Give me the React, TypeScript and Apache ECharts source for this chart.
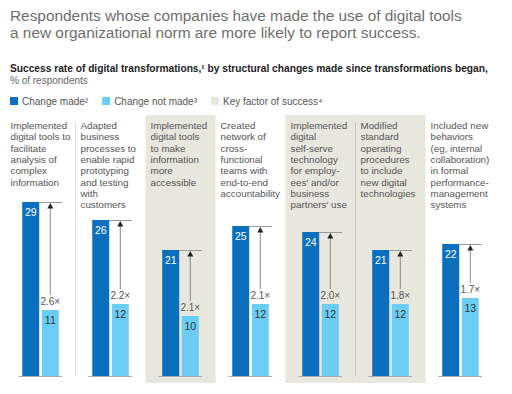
import React, { useEffect, useRef } from "react";
import * as echarts from "echarts";

const categories = [
  "Implemented\ndigital tools to\nfacilitate\nanalysis of\ncomplex\ninformation",
  "Adapted\nbusiness\nprocesses to\nenable rapid\nprototyping\nand testing\nwith\ncustomers",
  "Implemented\ndigital tools\nto make\ninformation\nmore\naccessible",
  "Created\nnetwork of\ncross-\nfunctional\nteams with\nend-to-end\naccountability",
  "Implemented\ndigital\nself-serve\ntechnology\nfor employ-\nees' and/or\nbusiness\npartners' use",
  "Modified\nstandard\noperating\nprocedures\nto include\nnew digital\ntechnologies",
  "Included new\nbehaviors\n(eg, internal\ncollaboration)\nin formal\nperformance-\nmanagement\nsystems",
];
const changeMade = [29, 26, 21, 25, 24, 21, 22];
const changeNotMade = [11, 12, 10, 12, 12, 12, 13];
const multipliers = ["2.6×", "2.2×", "2.1×", "2.1×", "2.0×", "1.8×", "1.7×"];
const keyFactor = [false, false, true, false, true, true, false];

const DARK = "#0B6FBE";
const LIGHT = "#6BCDF3";
const SHADE = "#E8E7DD";
const FONT = "'Liberation Sans', Arial, Helvetica, sans-serif";

export default function App() {
  const ref = useRef<HTMLDivElement>(null);
  useEffect(() => {
    const chart = echarts.init(ref.current!, null, { renderer: "svg" });
    const BAR_W = 17;
    const OFF = 9.8;
    const option: any = {
      animation: false,
      textStyle: { fontFamily: FONT },
      title: [
        {
          text: "Respondents whose companies have made the use of digital tools\na new organizational norm are more likely to report success.",
          left: 10,
          top: 7,
          padding: 0,
          textStyle: { fontSize: 15.4, fontWeight: "normal", color: "#6e6e6e", lineHeight: 17, fontFamily: FONT },
        },
        {
          text: "Success rate of digital transformations,¹ by structural changes made since transformations began,",
          left: 10,
          top: 62,
          padding: 0,
          textStyle: { fontSize: 10.2, fontWeight: "bold", color: "#222", lineHeight: 12, fontFamily: FONT },
        },
        {
          text: "% of respondents",
          left: 10,
          top: 74,
          padding: 0,
          textStyle: { fontSize: 10, fontWeight: "normal", color: "#666", lineHeight: 12, fontFamily: FONT },
        },
      ],
      legend: {
        left: 10,
        top: 96,
        padding: 0,
        itemWidth: 8,
        itemHeight: 8,
        itemGap: 14,
        icon: "rect",
        textStyle: { fontSize: 10, color: "#555", fontFamily: FONT, padding: [0, 0, 0, -1] },
        data: ["Change made²", "Change not made³", "Key factor of success⁴"],
      },
      grid: { left: 5.5, right: 16.5, top: 136, bottom: 18 },
      xAxis: {
        type: "category",
        data: categories,
        show: false,
      },
      yAxis: { type: "value", min: 0, max: 40, show: false },
      series: [
        {
          name: "Key factor of success⁴",
          type: "custom",
          z: 1,
          itemStyle: { color: SHADE },
          data: categories.map((_, i) => [i, keyFactor[i] ? 1 : 0]),
          renderItem: (params: any, api: any) => {
            const i = api.value(0);
            const c = api.coord([i, 0]);
            const cx = c[0];
            const children: any[] = [];
            if (keyFactor[i]) {
              children.push({
                type: "rect",
                shape: { x: cx - 35, y: 115, width: 70, height: 268 },
                style: { fill: SHADE },
              });
            }
            if (i > 0 && keyFactor[i] === keyFactor[i - 1]) {
              children.push({
                type: "line",
                shape: { x1: cx - 35, y1: 123, x2: cx - 35, y2: c[1] },
                style: { stroke: keyFactor[i] ? "#c9c7bd" : "#dddddd", lineWidth: 1 },
              });
            }
            children.push({
              type: "text",
              x: cx - 30,
              y: 120,
              style: {
                text: categories[i],
                fontSize: 9.8,
                lineHeight: 11.3,
                fill: "#555",
                fontFamily: FONT,
                textAlign: "left",
                textVerticalAlign: "top",
              },
            });
            return { type: "group", children };
          },
        },
        {
          name: "Change made²",
          type: "bar",
          data: changeMade,
          barWidth: BAR_W,
          barGap: "15%",
          itemStyle: { color: DARK },
          z: 2,
          label: {
            show: true,
            position: "insideTop",
            distance: 4,
            color: "#fff",
            fontSize: 10.5,
            fontFamily: FONT,
          },
        },
        {
          name: "Change not made³",
          type: "bar",
          data: changeNotMade,
          barWidth: BAR_W,
          itemStyle: { color: LIGHT },
          z: 2,
          label: {
            show: true,
            position: "insideTop",
            distance: 4,
            color: "#333",
            fontSize: 10.5,
            fontFamily: FONT,
          },
        },
        {
          name: "annotations",
          type: "custom",
          z: 3,
          data: categories.map((_, i) => [i, changeMade[i], changeNotMade[i]]),
          renderItem: (params: any, api: any) => {
            const i = api.value(0);
            const base = api.coord([i, 0]);
            const topD = api.coord([i, api.value(1)])[1];
            const topN = api.coord([i, api.value(2)])[1];
            const cx = base[0];
            const lx = cx + OFF;
            const dRight = cx - OFF + BAR_W / 2;
            return {
              type: "group",
              children: [
                {
                  type: "line",
                  shape: { x1: cx - 22, y1: base[1] + 0.5, x2: cx + 21.5, y2: base[1] + 0.5 },
                  style: { stroke: "#aaa", lineWidth: 1 },
                },
                {
                  type: "line",
                  shape: { x1: dRight, y1: topD + 0.5, x2: cx + 21.5, y2: topD + 0.5 },
                  style: { stroke: "#999", lineWidth: 1 },
                },
                {
                  type: "line",
                  shape: { x1: lx, y1: topN - 15, x2: lx, y2: topD + 5 },
                  style: { stroke: "#888", lineWidth: 1 },
                },
                {
                  type: "polygon",
                  shape: { points: [[lx, topD + 1], [lx - 3, topD + 6.5], [lx + 3, topD + 6.5]] },
                  style: { fill: "#222" },
                },
                {
                  type: "text",
                  x: lx,
                  y: topN - 8.5,
                  style: {
                    text: multipliers[i],
                    fontSize: 10,
                    fill: "#555",
                    fontFamily: FONT,
                    textAlign: "center",
                    textVerticalAlign: "middle",
                  },
                },
              ],
            };
          },
        },
      ],
    };
    chart.setOption(option);
    return () => chart.dispose();
  }, []);
  return (
    <div
      ref={ref}
      style={{ position: "fixed", left: 0, top: 0, width: 512, height: 394, background: "#fff" }}
    />
  );
}
